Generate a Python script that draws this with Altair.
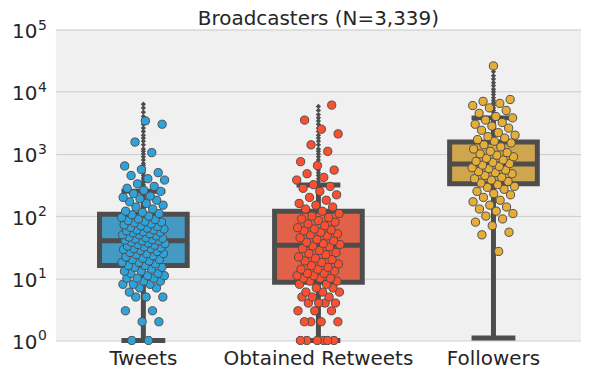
import altair as alt
import pandas as pd

categories = ["Tweets", "Obtained Retweets", "Followers"]
point_colors = ["#30a2da", "#fc4f30", "#e5ae38"]
box_colors = ["#459ac4", "#e26149", "#cfa64e"]

y_ticks = [1, 10, 100, 1000, 10000, 100000]
y_exponents = ["0", "1", "2", "3", "4", "5"]

q1 = [16, 8.6, 330]
median = [40, 34, 690]
q3 = [107, 120, 1550]
whisker_lo = [1, 1, 1.1]
whisker_hi = [250, 316, 3800]

tweets_points = [1, 1, 2, 2, 3, 3, 5, 5, 5, 6, 7, 7, 8, 8, 8, 9, 9, 10, 10, 10, 11, 11, 12, 12,
                 13, 13, 14, 15, 15, 16, 16, 17, 18, 18, 19, 20, 20, 21, 22, 23, 24, 25, 25, 26,
                 27, 28, 29, 30, 30, 31, 32, 33, 34, 35, 36, 37, 38, 40, 40, 41, 42, 43, 44, 45,
                 46, 48, 50, 50, 52, 54, 55, 56, 58, 60, 60, 62, 64, 66, 68, 70, 72, 75, 78, 80,
                 82, 85, 88, 90, 95, 100, 105, 110, 115, 120, 130, 140, 150, 160, 170, 180, 190,
                 200, 210, 230, 250, 260, 280, 300, 330, 380, 400, 450, 500, 560, 640, 1050, 1550,
                 3000, 3400]
retweets_points = [1, 1, 1, 1, 1, 1, 2, 2, 2, 2, 3, 3, 3, 4, 4, 4, 4, 5, 5, 5, 6, 6, 6, 7, 7, 8,
                   8, 9, 9, 10, 10, 10, 11, 11, 12, 12, 13, 14, 14, 15, 16, 17, 18, 19, 20, 21,
                   22, 24, 25, 26, 28, 30, 32, 33, 35, 36, 38, 40, 42, 45, 48, 50, 52, 55, 58,
                   60, 62, 65, 70, 75, 80, 85, 90, 95, 100, 110, 120, 130, 140, 150, 160, 180,
                   200, 220, 250, 280, 300, 320, 380, 420, 480, 550, 650, 750, 1100, 1400, 2100,
                   2500, 3500, 6100]
followers_points = [27, 50, 55, 70, 80, 90, 100, 110, 120, 130, 140, 150, 170, 180, 200, 220,
                    230, 250, 270, 290, 300, 320, 340, 360, 380, 400, 420, 450, 480, 500, 520,
                    550, 580, 600, 630, 660, 700, 730, 760, 800, 850, 900, 950, 1000, 1050, 1100,
                    1200, 1300, 1400, 1500, 1600, 1700, 1800, 1900, 2000, 2200, 2400, 2600, 2800,
                    3000, 3200, 3500, 3800, 4000, 4500, 5000, 5500, 6000, 6500, 7000, 7500, 26000]

tweets_fliers = [260, 280, 300, 320, 350, 380, 410, 450, 500, 550, 600, 650, 700, 800, 900, 1000,
                 1100, 1200, 1400, 1600, 1800, 2000, 2300, 2600, 3000, 3500, 4000, 4700, 5500, 6300]
retweets_fliers = [330, 360, 400, 450, 500, 550, 600, 700, 800, 900, 1000, 1100, 1200, 1400, 1600,
                   1800, 2000, 2300, 2600, 3000, 3400, 3800, 4300, 5000, 5800]
followers_fliers = [3900, 4200, 4600, 5000, 5500, 6000, 6600, 7200, 8000, 9000, 10000, 11000,
                    12500, 14000, 16000, 18000, 21000, 26000]

summary = pd.DataFrame({"cat": categories, "q1": q1, "median": median, "q3": q3,
                        "lo": whisker_lo, "hi": whisker_hi})
points = pd.DataFrame(
    [(c, v) for c, vals in zip(categories, [tweets_points, retweets_points, followers_points]) for v in vals],
    columns=["cat", "value"])
fliers = pd.DataFrame(
    [(c, v) for c, vals in zip(categories, [tweets_fliers, retweets_fliers, followers_fliers]) for v in vals],
    columns=["cat", "value"])
exps = pd.DataFrame({"tick": y_ticks, "exp": y_exponents})

DARK = "#4d4d4d"
TEXT = "#262626"
FONT = "DejaVu Sans"
WIDTH = 527
BAND = WIDTH / 3

xenc = alt.X("cat:N", sort=categories,
             scale=alt.Scale(domain=categories, paddingInner=0, paddingOuter=0),
             axis=alt.Axis(title=None, labelAngle=0, labelFontSize=20, labelFont=FONT,
                           labelColor=TEXT, ticks=False, domain=False, labelPadding=8,
                           labelLimit=0))
yscale = alt.Scale(type="log", domain=[1, 100000], nice=False)
yaxis = alt.Axis(title=None, values=y_ticks, labelExpr="'10'",
                 labelFontSize=20, labelFont=FONT, labelColor=TEXT, ticks=False,
                 domain=False, grid=True, gridColor="#cbcbcb", gridWidth=1, labelPadding=19,
                 labelOffset=2)

base = alt.Chart(summary)

whiskers = base.mark_rule(color=DARK, strokeWidth=5).encode(
    x=xenc, y=alt.Y("lo:Q", scale=yscale, axis=yaxis), y2="hi:Q")
caps_hi = base.mark_tick(color=DARK, thickness=5, size=44, orient="horizontal", opacity=1).encode(
    x=xenc, y=alt.Y("hi:Q", scale=yscale))
caps_lo = base.mark_tick(color=DARK, thickness=5, size=44, orient="horizontal", opacity=1).encode(
    x=xenc, y=alt.Y("lo:Q", scale=yscale))
boxes = base.mark_bar(width=88, stroke=DARK, strokeWidth=5).encode(
    x=xenc, y=alt.Y("q1:Q", scale=yscale), y2="q3:Q",
    color=alt.Color("cat:N", scale=alt.Scale(domain=categories, range=box_colors), legend=None))
medians = base.mark_tick(color=DARK, thickness=5, size=88, orient="horizontal", opacity=1).encode(
    x=xenc, y=alt.Y("median:Q", scale=yscale))
flier_marks = alt.Chart(fliers).mark_point(shape="diamond", filled=True, size=28,
                                           color=DARK, opacity=1).encode(
    x=xenc, y=alt.Y("value:Q", scale=yscale))
strip = alt.Chart(points).transform_window(
    idx="row_number()", groupby=["cat"]
).transform_calculate(
    jit="((datum.idx * 0.6180339887) % 1) * 2 - 1"
).mark_circle(size=68, stroke=DARK, strokeWidth=1, opacity=1).encode(
    x=xenc,
    xOffset=alt.XOffset("jit:Q", scale=alt.Scale(domain=[-1, 1],
                                                 range=[BAND / 2 - 22, BAND / 2 + 22])),
    y=alt.Y("value:Q", scale=yscale),
    color=alt.Color("cat:N", scale=alt.Scale(domain=categories, range=point_colors), legend=None))
exp_text = alt.Chart(exps).mark_text(align="left", baseline="middle", fontSize=14, font=FONT,
                                     color=TEXT, dy=-4).encode(
    x=alt.value(-18), y=alt.Y("tick:Q", scale=yscale), text="exp:N")

chart = alt.layer(whiskers, caps_hi, caps_lo, boxes, medians, flier_marks, strip,
                  exp_text).resolve_scale(
    color="independent"
).properties(
    width=WIDTH, height=312,
    title=alt.TitleParams("Broadcasters (N=3,339)", fontSize=20, font=FONT, fontWeight="normal",
                          color=TEXT, offset=-10, anchor="middle"),
    autosize=alt.AutoSizeParams(type="none"),
    padding={"left": 48, "top": 21, "right": 0, "bottom": 30},
    background="white",
).configure_view(fill="#f0f0f0", stroke=None)

chart.save("out.html", embed_options={"renderer": "svg", "actions": False})
